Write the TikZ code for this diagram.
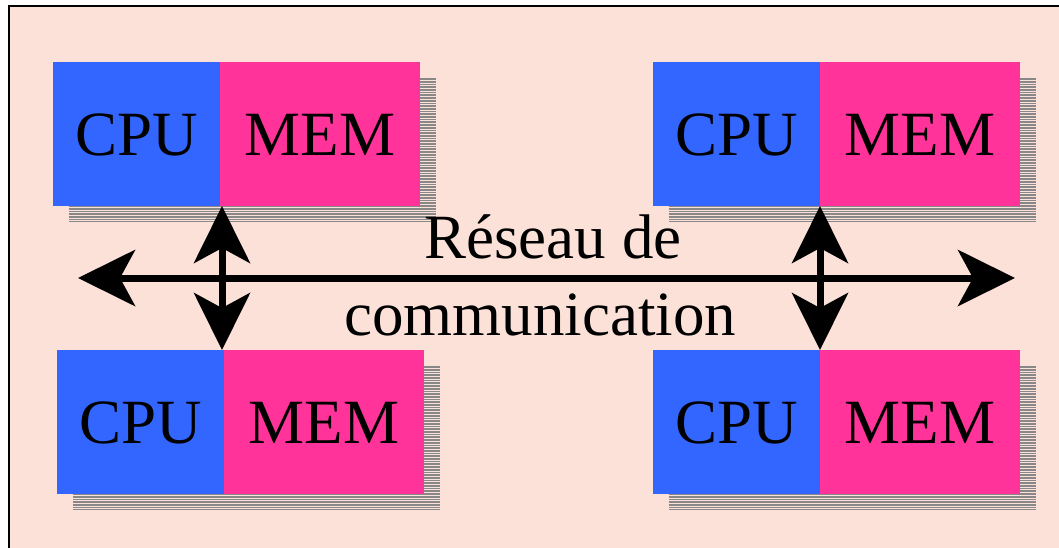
\documentclass[tikz,border=0pt]{standalone}
\usepackage{fontspec}
\setmainfont{Liberation Serif}
\usetikzlibrary{arrows.meta,calc}
\definecolor{bgpeach}{HTML}{FCE1D8}
\definecolor{cpublue}{HTML}{3366FF}
\definecolor{mempink}{HTML}{FF3399}
\definecolor{shadowgray}{HTML}{888888}
\begin{document}
\begin{tikzpicture}[x=1pt,y=-1pt,
  unitbox/.style={draw=none, minimum height=144pt, inner sep=0pt, outer sep=0pt,
    font=\fontsize{63}{63}\selectfont, text height=42pt, text depth=0pt, anchor=north west},
  cpubox/.style={unitbox, fill=cpublue, minimum width=167pt},
  membox/.style={unitbox, fill=mempink, minimum width=200pt},
  bigtip/.tip={Stealth[length=57pt,width=56pt,inset=15pt]},
  bus/.style={line width=7pt, bigtip-bigtip},
]
\clip (0,0) rectangle (1059,547);
\useasboundingbox (0,0) rectangle (1059,547);
\fill[white] (0,0) rectangle (1059,547);
% panel frame
\draw[line width=2pt, fill=bgpeach] (9,6) rectangle (1090,580);

% processing units with striped drop shadows
\foreach \n/\x/\y in {1/53/62, 2/653/62, 3/57/350, 4/653/350}{
  \begin{scope}
    \clip (\x+16,\y+16) rectangle ++(367,144);
    \fill[shadowgray] (\x+16,\y+16) rectangle ++(367,144);
    \foreach \k in {0,...,53}
      \draw[bgpeach, line width=0.8pt] (\x+16,\y+16+2.7*\k+2.3) -- ++(367,0);
  \end{scope}
  \node[cpubox] (cpu\n) at (\x,\y) {CPU};
  \node[membox] (mem\n) at (cpu\n.north east) {MEM};
}

% communication network
\coordinate (netwest) at (78,278);
\coordinate (neteast) at (1015,278);
\draw[bus] (netwest) -- (neteast);
\draw[bus] ($(mem1.south west)+(2,0)$) -- ($(mem3.north west)+(-2,0)$);
\draw[bus] (mem2.south west) -- (mem4.north west);

\node[font=\fontsize{63}{77}\selectfont, align=center, anchor=base, inner sep=0pt]
  (net) at (540,335) {\hspace*{26pt}Réseau de\\communication};
\end{tikzpicture}
\end{document}
